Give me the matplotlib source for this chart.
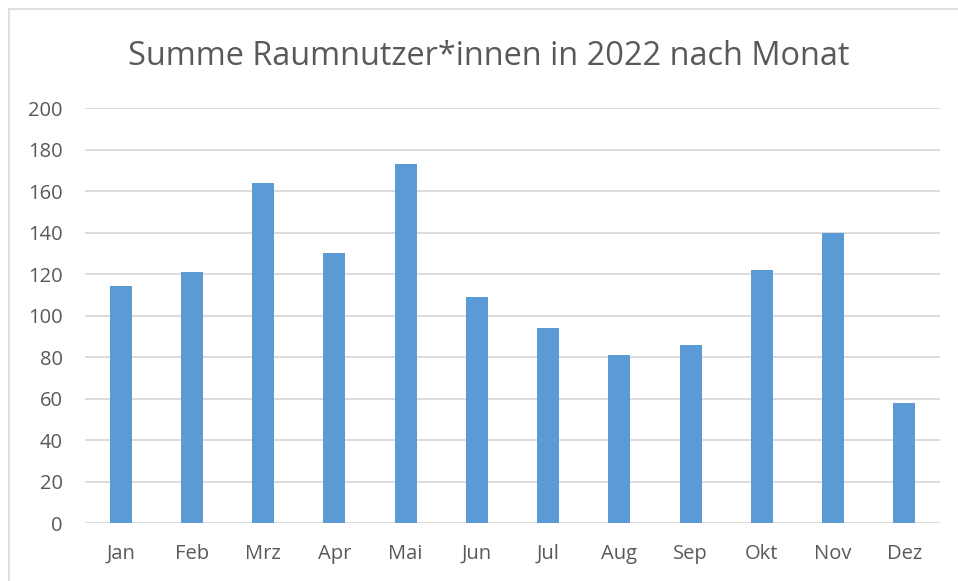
import matplotlib.pyplot as plt
from matplotlib.lines import Line2D

months = ["Jan", "Feb", "Mrz", "Apr", "Mai", "Jun", "Jul", "Aug", "Sep", "Okt", "Nov", "Dez"]
nutzer = [114, 121, 164, 130, 173, 109, 94, 81, 86, 122, 140, 58]
y_ticks = [0, 20, 40, 60, 80, 100, 120, 140, 160, 180, 200]

plt.rcParams["font.family"] = ["Open Sans", "DejaVu Sans"]
text_col = "#595959"

fig = plt.figure(figsize=(9.58, 5.81), dpi=100)
ax = fig.add_axes([0.0887, 0.0998, 0.8925, 0.7142])

x = range(len(months))
ax.bar(x, nutzer, width=0.31, color="#5B9BD5", zorder=3)

ax.set_xlim(-0.5, len(months) - 0.5)
ax.set_ylim(0, 200)
ax.set_yticks(y_ticks)
ax.set_xticks(list(x))
ax.set_xticklabels(months)
ax.yaxis.grid(True, color="#D9D9D9", lw=1.3, zorder=0)
for s in ax.spines.values():
    s.set_visible(False)
ax.tick_params(length=0, labelsize=14.5, colors=text_col)
ax.tick_params(axis="x", pad=15)
ax.tick_params(axis="y", pad=16)

fig.text(0.51, 0.903, "Summe Raumnutzer*innen in 2022 nach Monat",
         ha="center", va="center", fontsize=23.4, color=text_col)

# Rahmen des Diagramms (links und oben, rechts abgeschnitten)
fig.add_artist(Line2D([0.0094, 0.0094], [0, 0.9845], color="#D9D9D9", lw=1.2))
fig.add_artist(Line2D([0.0094, 1.0], [0.9845, 0.9845], color="#D9D9D9", lw=1.2))

plt.savefig("out.png", dpi=100)
